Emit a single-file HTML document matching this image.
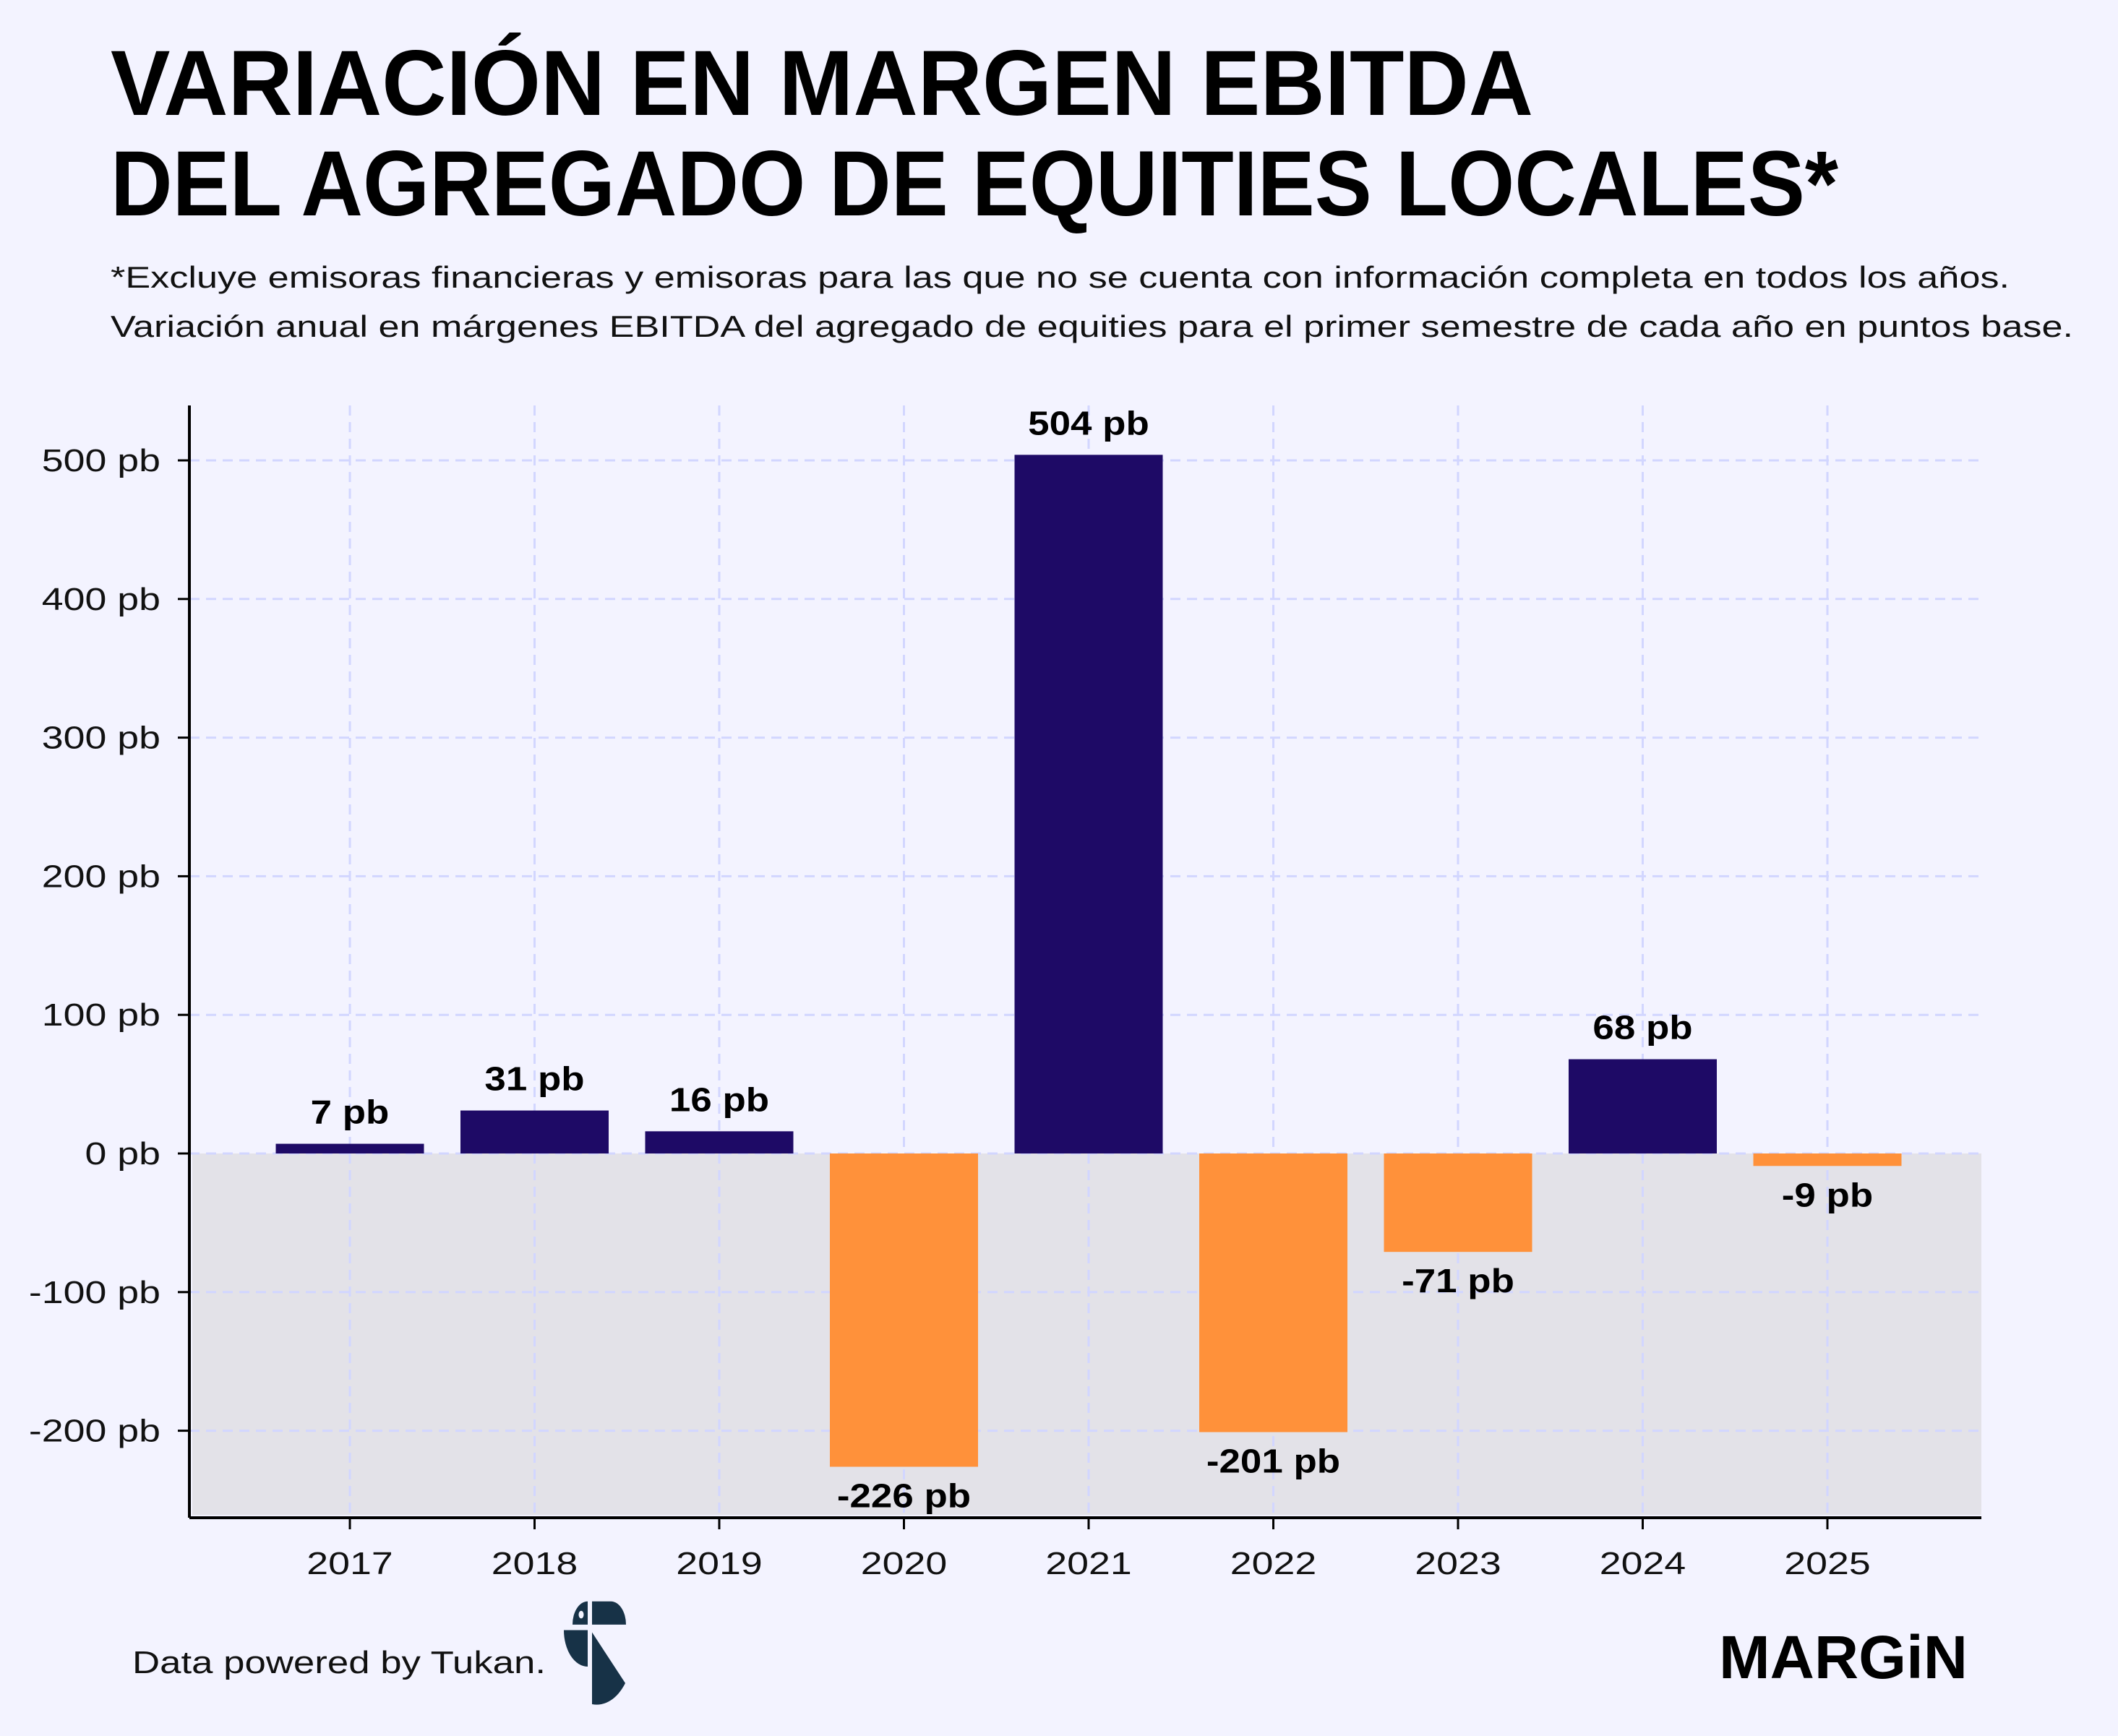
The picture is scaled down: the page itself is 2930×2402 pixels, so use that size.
<!DOCTYPE html>
<html><head><meta charset="utf-8"><style>
html,body{margin:0;padding:0;background:#f3f3ff;}
svg{display:block;font-family:"Liberation Sans",sans-serif;}
</style></head><body>
<svg id="chart" width="2930" height="2402" viewBox="0 0 2930 2402" xmlns="http://www.w3.org/2000/svg">
<rect width="2930" height="2402" fill="#f3f3ff"/>
<g font-weight="bold" font-size="128" fill="#000">
<text x="153" y="159" textLength="1968" lengthAdjust="spacingAndGlyphs">VARIACIÓN EN MARGEN EBITDA</text>
<text x="153" y="298" textLength="2390" lengthAdjust="spacingAndGlyphs">DEL AGREGADO DE EQUITIES LOCALES*</text>
</g>
<g font-size="42" fill="#111">
<text x="153" y="398" textLength="2627" lengthAdjust="spacingAndGlyphs">*Excluye emisoras financieras y emisoras para las que no se cuenta con información completa en todos los años.</text>
<text x="153" y="466" textLength="2715" lengthAdjust="spacingAndGlyphs">Variación anual en márgenes EBITDA del agregado de equities para el primer semestre de cada año en puntos base.</text>
</g>
<g id="plot"></g>
<g>
<text x="183" y="2315" font-size="44" fill="#111" textLength="572" lengthAdjust="spacingAndGlyphs">Data powered by Tukan.</text>
<g fill="#173247" transform="translate(0,2358) scale(1,1.53) translate(0,-2358)">
<path d="M792,2286 A21,21 0 0 1 813,2265 V2286 Z"/>
<circle cx="804" cy="2277" r="3.5" fill="#f3f3ff"/>
<path d="M819,2265 H845 A21,21 0 0 1 866,2286 H819 Z"/>
<path d="M780,2291 H813 V2324 A33,33 0 0 1 780,2291 Z"/>
<path d="M819,2293 L865,2339 A50,50 0 0 1 819,2358 Z"/>
</g>
<text x="2378" y="2322" font-size="84" font-weight="bold" fill="#000" textLength="344" lengthAdjust="spacingAndGlyphs">MARGiN</text>
</g>
</svg>
<script>
const categories = ["2017","2018","2019","2020","2021","2022","2023","2024","2025"];
const values = [7, 31, 16, -226, 504, -201, -71, 68, -9];
const valueLabels = ["7 pb","31 pb","16 pb","-226 pb","504 pb","-201 pb","-71 pb","68 pb","-9 pb"];
const yTicks = [-200, -100, 0, 100, 200, 300, 400, 500];
const yTickLabels = ["-200 pb","-100 pb","0 pb","100 pb","200 pb","300 pb","400 pb","500 pb"];

const NS = "http://www.w3.org/2000/svg";
const plot = document.getElementById("plot");
const axL = 262, axR = 2741, axT = 561, axB = 2100;
const y0px = 1596, pxPer = (1596 - 637) / 500;
function yScale(v){ return y0px - v * pxPer; }
const firstX = 484, step = (2528 - 484) / 8;
function xScale(i){ return firstX + i * step; }
const barW = 205;
function mk(tag, attrs){ const e = document.createElementNS(NS, tag); for (const k in attrs) e.setAttribute(k, attrs[k]); plot.appendChild(e); return e; }
function stretch(t, f){ const w = t.getComputedTextLength(); if (w > 0){ t.setAttribute("textLength", (w * f).toFixed(1)); t.setAttribute("lengthAdjust", "spacingAndGlyphs"); } }

const shade = mk("rect", {x: axL + 4, y: yScale(0), width: axR - axL - 4, height: axB - 4 - yScale(0), fill: "#e3e2e8"});



yTicks.forEach((t, i) => {
  const g = mk("line", {x1: axL, x2: axR, y1: yScale(t), y2: yScale(t), stroke: "#d2d6ff", "stroke-width": 3, "stroke-dasharray": "14 9"});
  
  
  const tk = mk("line", {x1: axL - 16, x2: axL, y1: yScale(t), y2: yScale(t), stroke: "#000", "stroke-width": 3});
  
  
  const lb = mk("text", {x: axL - 40, y: yScale(t) + 15, "text-anchor": "end", "font-size": 44, fill: "#111"});
  lb.textContent = yTickLabels[i];
  
  
  stretch(lb, 1.22);
});
categories.forEach((c, i) => {
  const g = mk("line", {x1: xScale(i), x2: xScale(i), y1: axT, y2: axB, stroke: "#d2d6ff", "stroke-width": 3, "stroke-dasharray": "14 9"});
  
  
});
values.forEach((v, i) => {
  const top = Math.min(yScale(v), yScale(0)), h = Math.abs(yScale(v) - yScale(0));
  const b = mk("rect", {x: xScale(i) - barW / 2, y: top, width: barW, height: h, fill: v >= 0 ? "#1e0a66" : "#ff913a"});
  
  
  const ly = v >= 0 ? yScale(v) - 28 : yScale(v) + 56;
  const t = mk("text", {x: xScale(i), y: ly, "text-anchor": "middle", "font-size": 46, "font-weight": "bold", fill: "#000"});
  t.textContent = valueLabels[i];
  
  
  stretch(t, 1.15);
});
categories.forEach((c, i) => {
  const tk = mk("line", {x1: xScale(i), x2: xScale(i), y1: axB, y2: axB + 16, stroke: "#000", "stroke-width": 3});
  
  
  const lb = mk("text", {x: xScale(i), y: axB + 78, "text-anchor": "middle", "font-size": 44, fill: "#111"});
  lb.textContent = c;
  
  
  stretch(lb, 1.22);
});
const ya = mk("line", {x1: axL, x2: axL, y1: axT, y2: axB, stroke: "#000", "stroke-width": 4});


const xa = mk("line", {x1: axL, x2: axR, y1: axB, y2: axB, stroke: "#000", "stroke-width": 4});


</script>
</body></html>
